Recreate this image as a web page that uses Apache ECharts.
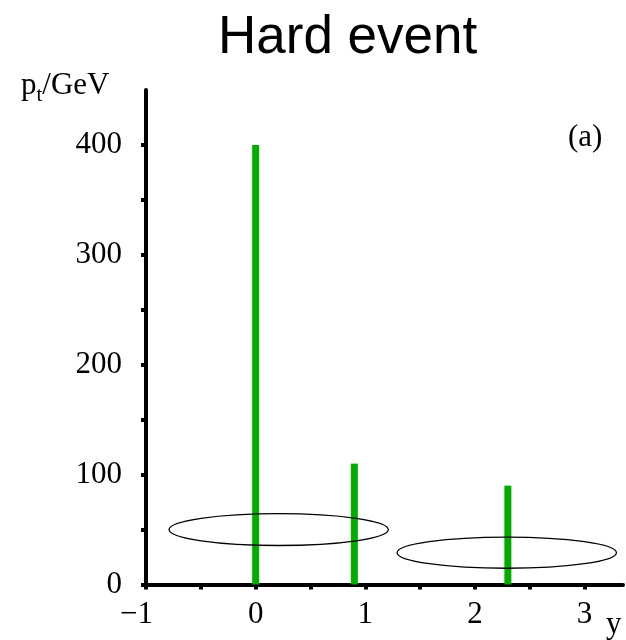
<!DOCTYPE html>
<html>
<head>
<meta charset="utf-8">
<script src="https://cdn.jsdelivr.net/npm/echarts@6/dist/echarts.min.js"></script>
<style>html,body{margin:0;padding:0;background:#fff;}#c{width:626px;height:640px;}</style>
</head>
<body>
<div id="c"></div>
<script>
// Data
const rapidity = [0, 0.9, 2.3];
const ptValues = [400, 110, 90];
// ellipses: [centre y, centre pt, half-width in y, half-height in pt]
const ellipses = [
  [0.21, 50, 1.0, 14.5],
  [2.29, 29, 1.0, 14.2]
];
const xTicks = [-1, -0.5, 0, 0.5, 1, 1.5, 2, 2.5, 3];
const xLabels = [-1, 0, 1, 2, 3];
const yTicks = [0, 50, 100, 150, 200, 250, 300, 350, 400];
const yLabels = [0, 100, 200, 300, 400];

const serif = 'Liberation Serif';
const chart = echarts.init(document.getElementById('c'), null, {renderer: 'canvas'});
const axisLine = {show: true, onZero: false, lineStyle: {color: '#000', width: 4}};
const tickBase = {show: true, inside: false, length: 5, lineStyle: {color: '#000', width: 4}};
const labelBase = {color: '#000', fontFamily: serif, fontSize: 31};
chart.setOption({
  animation: false,
  backgroundColor: '#fff',
  title: {
    text: 'Hard event', left: 213, top: 7,
    textStyle: {fontFamily: 'Liberation Sans', fontSize: 53, fontWeight: 'normal', color: '#000'}
  },
  grid: {left: 146, top: 90, width: 477, height: 494.5, containLabel: false},
  xAxis: {
    type: 'value', min: -1, max: 3.35,
    axisLine: axisLine,
    axisTick: Object.assign({}, tickBase, {customValues: xTicks}),
    splitLine: {show: false},
    axisLabel: Object.assign({}, labelBase, {
      margin: 15, customValues: xLabels,
      formatter: v => v < 0 ? '{neg|\u2212' + Math.abs(v) + '}' : String(v),
      rich: {neg: {fontFamily: serif, fontSize: 31, color: '#000', padding: [0, 19, 0, 0]}}
    })
  },
  yAxis: {
    type: 'value', min: 0, max: 450,
    axisLine: axisLine,
    axisTick: Object.assign({}, tickBase, {customValues: yTicks}),
    splitLine: {show: false},
    axisLabel: Object.assign({}, labelBase, {margin: 24, customValues: yLabels})
  },
  graphic: [
    {
      type: 'text', left: 21, top: 66,
      style: {
        text: '{p|p}{t|t}{g|/GeV}',
        rich: {
          p: {fontFamily: serif, fontSize: 31, lineHeight: 32, fill: '#000'},
          t: {fontFamily: serif, fontSize: 21, lineHeight: 21, padding: [19, 0, 0, 0], fill: '#000'},
          g: {fontFamily: serif, fontSize: 31, lineHeight: 32, fill: '#000'}
        }
      }
    },
    {
      type: 'text', left: 568, top: 122,
      style: {text: '(a)', fontFamily: serif, fontSize: 31, fill: '#000'}
    },
    {
      type: 'text', left: 606, top: 609,
      style: {text: 'y', fontFamily: serif, fontSize: 31, fill: '#000'}
    }
  ],
  series: [
    {
      type: 'bar',
      data: rapidity.map((y, i) => [y, ptValues[i]]),
      barWidth: 7,
      itemStyle: {color: '#00ad00'},
      z: 1
    },
    {
      type: 'custom',
      data: ellipses,
      z: 3,
      renderItem: (params, api) => {
        const c = api.coord([api.value(0), api.value(1)]);
        const s = api.size([api.value(2), api.value(3)]);
        return {
          type: 'ellipse',
          shape: {cx: c[0], cy: c[1], rx: s[0], ry: s[1]},
          style: {fill: null, stroke: '#000', lineWidth: 1.3}
        };
      }
    }
  ]
});
</script>
</body>
</html>
